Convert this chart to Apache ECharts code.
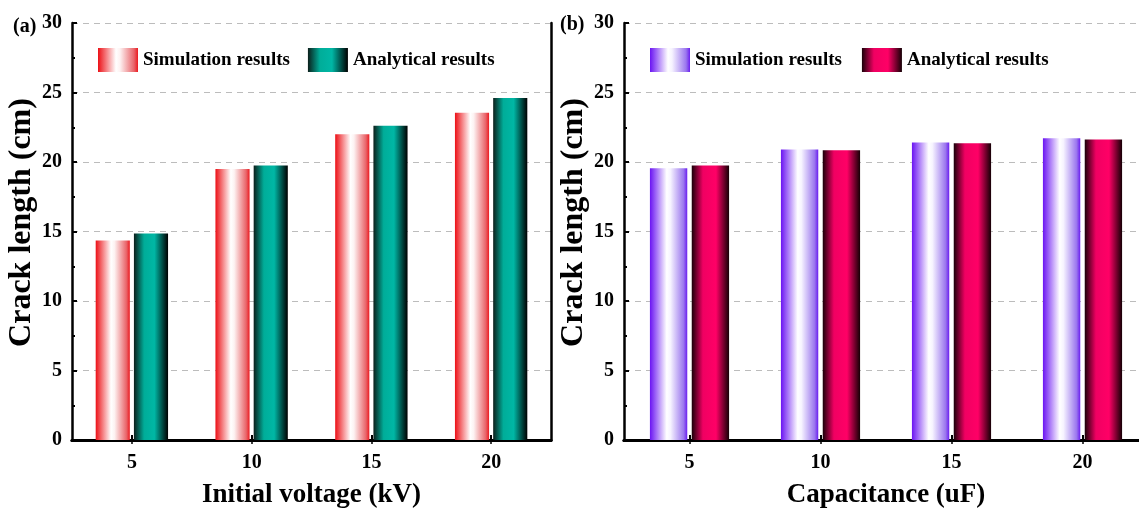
<!DOCTYPE html>
<html>
<head>
<meta charset="utf-8">
<script src="https://cdn.jsdelivr.net/npm/echarts@6/dist/echarts.min.js"></script>
<style>
html,body{margin:0;padding:0;background:#fff;overflow:hidden;}
#chart{width:1139px;height:509px;}
</style>
</head>
<body>
<div id="chart"></div>
<script>
// Data
const categoriesA = ['5', '10', '15', '20'];
const simA = [14.35, 19.5, 22.0, 23.55];
const anaA = [14.85, 19.75, 22.6, 24.6];
const categoriesB = ['5', '10', '15', '20'];
const simB = [19.55, 20.9, 21.4, 21.7];
const anaB = [19.75, 20.85, 21.35, 21.62];
const seriesNames = ['Simulation results', 'Analytical results'];
const xTitleA = 'Initial voltage (kV)';
const xTitleB = 'Capacitance (uF)';
const yTitle = 'Crack length (cm)';

const FONT = '"Liberation Serif", "Times New Roman", serif';
const G = echarts.graphic.LinearGradient;
const simAColor = new G(0, 0, 1, 0, [
  {offset: 0, color: '#ec1016'}, {offset: 0.45, color: '#ffffff'},
  {offset: 0.55, color: '#fdf2f2'}, {offset: 0.9, color: '#e9656a'}, {offset: 1, color: '#ec1a20'}]);
const anaAColor = new G(0, 0, 1, 0, [
  {offset: 0, color: '#0b1f1b'}, {offset: 0.3, color: '#00ad99'},
  {offset: 0.6, color: '#00b7a5'}, {offset: 1, color: '#000000'}]);
const simBColor = new G(0, 0, 1, 0, [
  {offset: 0, color: '#6a14f2'}, {offset: 0.45, color: '#ffffff'},
  {offset: 0.55, color: '#f6f3ff'}, {offset: 0.9, color: '#9b77ee'}, {offset: 1, color: '#6a1ef0'}]);
const anaBColor = new G(0, 0, 1, 0, [
  {offset: 0, color: '#1a0008'}, {offset: 0.3, color: '#f00062'},
  {offset: 0.65, color: '#ff0066'}, {offset: 1, color: '#150005'}]);

const grids = [
  {left: 72, width: 479, top: 23, height: 417, outerBoundsMode: 'none', containLabel: false},
  {left: 624, width: 524, top: 23, height: 417, outerBoundsMode: 'none', containLabel: false}
];

function xAxes(gi, cats, title) {
  return [{
    type: 'category', gridIndex: gi, data: cats, position: 'bottom',
    boundaryGap: true,
    axisLine: {lineStyle: {color: '#000', width: 3}},
    axisTick: {show: true, inside: true, alignWithLabel: true, length: 5, lineStyle: {color: '#000', width: 2}},
    axisLabel: {color: '#000', fontFamily: FONT, fontWeight: 'bold', fontSize: 20, margin: 13},
    name: title, nameLocation: 'middle', nameGap: 42,
    nameTextStyle: {color: '#000', fontFamily: FONT, fontWeight: 'bold', fontSize: 27},
    splitLine: {show: false}
  }, {
    type: 'category', gridIndex: gi, data: cats, position: 'top',
    boundaryGap: true,
    axisLine: {lineStyle: {color: '#000', width: 3}},
    axisTick: {show: true, inside: true, alignWithLabel: true, length: 4, lineStyle: {color: '#000', width: 1.5}},
    axisLabel: {show: false},
    splitLine: {show: false}
  }];
}
function yAxes(gi) {
  return [{
    type: 'value', gridIndex: gi, min: 0, max: 30, interval: 5, position: 'left',
    axisLine: {show: true, lineStyle: {color: '#000', width: 2.5}},
    axisTick: {show: true, inside: true, length: 5, lineStyle: {color: '#000', width: 2}},
    minorTick: {show: true, splitNumber: 2, length: 3, lineStyle: {color: '#000', width: 2}},
    axisLabel: {color: '#000', fontFamily: FONT, fontWeight: 'bold', fontSize: 20, margin: 10},
    splitLine: {show: true, lineStyle: {color: '#bcbcbc', type: [6, 5], width: 1.2}},
    name: yTitle, nameLocation: 'middle', nameGap: 30, nameRotate: 90,
    nameTextStyle: {color: '#000', fontFamily: FONT, fontWeight: 'bold', fontSize: 32, padding: [0, 0, 0, 18]}
  }, {
    type: 'value', gridIndex: gi, min: 0, max: 30, interval: 5, position: 'right',
    axisLine: {show: true, lineStyle: {color: '#000', width: 2.5}},
    axisTick: {show: false}, axisLabel: {show: false}, splitLine: {show: false}
  }];
}

function bar(name, data, xi, yi, color) {
  return {
    name: name, type: 'bar', data: data, xAxisIndex: xi, yAxisIndex: yi,
    barWidth: '28.5%', barGap: '12%', itemStyle: {color: color},
    emphasis: {disabled: true}
  };
}

const legendText = {color: '#000', fontFamily: FONT, fontWeight: 'bold', fontSize: 19};

const option = {
  animation: false,
  backgroundColor: '#fff',
  title: [
    {text: '(a)', left: 8, top: 12, textStyle: {color: '#000', fontFamily: FONT, fontWeight: 'bold', fontSize: 20}},
    {text: '(b)', left: 555, top: 10, textStyle: {color: '#000', fontFamily: FONT, fontWeight: 'bold', fontSize: 20}}
  ],
  grid: grids,
  xAxis: [...xAxes(0, categoriesA, xTitleA), ...xAxes(1, categoriesB, xTitleB)],
  yAxis: [...yAxes(0), ...yAxes(1)],
  legend: [
    {left: 93, top: 43, itemWidth: 40, itemHeight: 24, itemGap: 18, icon: 'rect',
     textStyle: legendText, data: ['simA', 'anaA'].map(n => ({name: n})),
     formatter: n => n === 'simA' ? seriesNames[0] : seriesNames[1], selectedMode: false},
    {left: 645, top: 43, itemWidth: 40, itemHeight: 24, itemGap: 20, icon: 'rect',
     textStyle: legendText, data: ['simB', 'anaB'].map(n => ({name: n})),
     formatter: n => n === 'simB' ? seriesNames[0] : seriesNames[1], selectedMode: false}
  ],
  series: [
    bar('simA', simA, 0, 0, simAColor),
    bar('anaA', anaA, 0, 0, anaAColor),
    bar('simB', simB, 2, 2, simBColor),
    bar('anaB', anaB, 2, 2, anaBColor)
  ]
};

const chart = echarts.init(document.getElementById('chart'), null, {renderer: 'canvas'});
chart.setOption(option);
</script>
</body>
</html>
